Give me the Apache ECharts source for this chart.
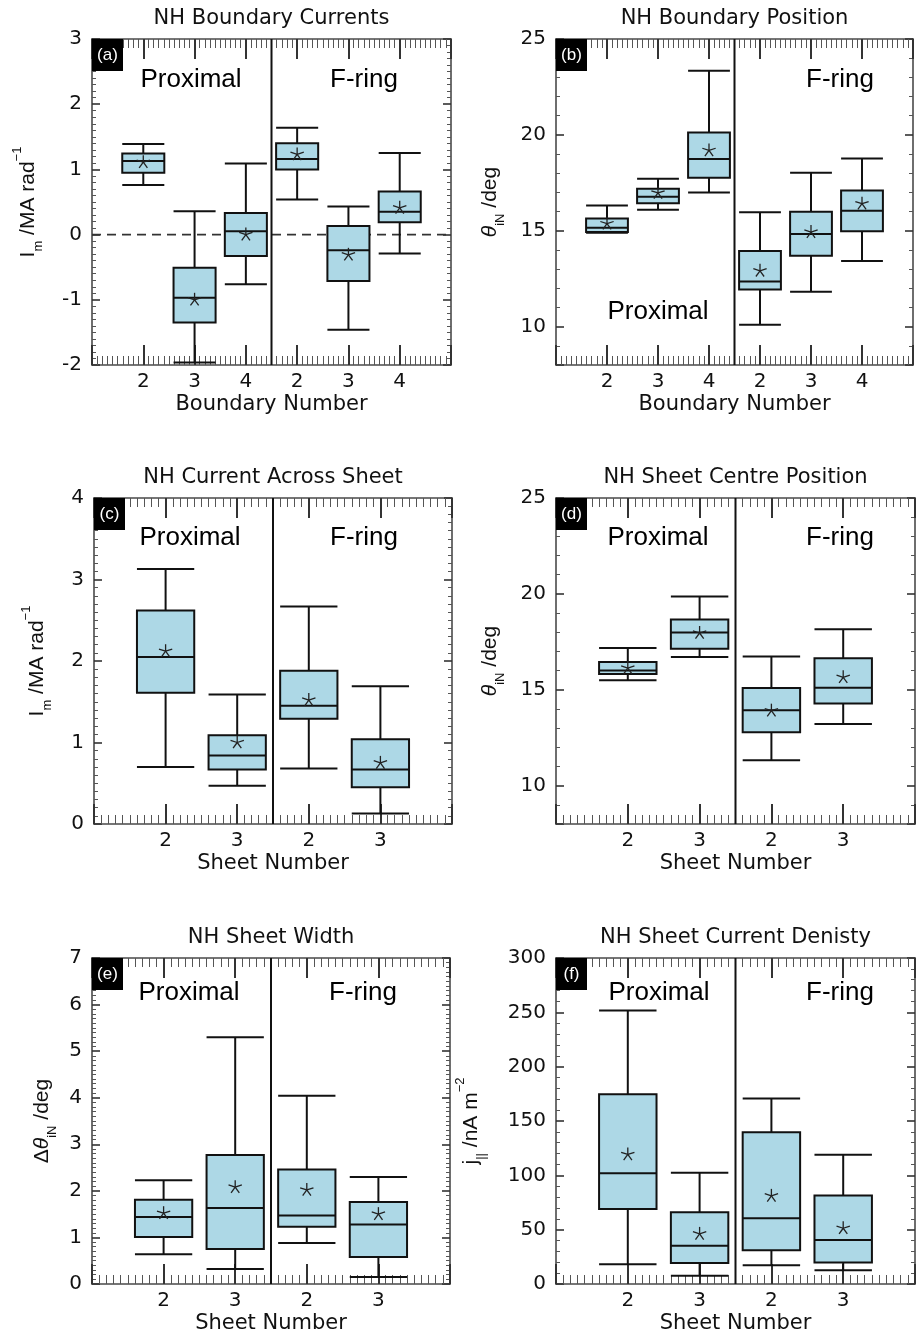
<!DOCTYPE html>
<html><head><meta charset="utf-8">
<script src="https://cdn.jsdelivr.net/npm/echarts@6/dist/echarts.min.js"></script>
<style>html,body{margin:0;padding:0;background:#fff}#chart{width:918px;height:1337px}</style>
</head><body><div id="chart"></div>
<script>
// ---------------- data ----------------
const boundaryLabels = ['2', '3', '4', '2', '3', '4'];
const sheetLabels = ['2', '3', '2', '3'];

// (a) NH Boundary Currents
const aLow  = [0.76, -1.96, -0.76, 0.54, -1.46, -0.29];
const aQ1   = [0.95, -1.35, -0.33, 1.00, -0.71, 0.19];
const aMed  = [1.13, -0.97, 0.05, 1.16, -0.24, 0.35];
const aQ3   = [1.245, -0.51, 0.33, 1.40, 0.13, 0.66];
const aHigh = [1.39, 0.36, 1.09, 1.64, 0.43, 1.25];
const aMean = [1.11, -1.00, 0.00, 1.23, -0.31, 0.41];

// (b) NH Boundary Position
const bLow  = [14.90, 16.10, 17.00, 10.10, 11.82, 13.42];
const bQ1   = [14.93, 16.43, 17.77, 11.94, 13.70, 14.97];
const bMed  = [15.16, 16.77, 18.74, 12.36, 14.83, 16.04];
const bQ3   = [15.64, 17.19, 20.13, 13.94, 15.99, 17.10];
const bHigh = [16.32, 17.71, 23.35, 15.97, 18.03, 18.77];
const bMean = [15.37, 16.97, 19.19, 12.91, 14.93, 16.41];

// (c) NH Current Across Sheet
const cLow  = [0.70, 0.47, 0.68, 0.13];
const cQ1   = [1.61, 0.67, 1.29, 0.45];
const cMed  = [2.05, 0.84, 1.45, 0.67];
const cQ3   = [2.62, 1.09, 1.88, 1.04];
const cHigh = [3.13, 1.59, 2.67, 1.69];
const cMean = [2.12, 1.00, 1.52, 0.75];

// (d) NH Sheet Centre Position
const dLow  = [15.49, 16.71, 11.32, 13.21];
const dQ1   = [15.82, 17.14, 12.78, 14.28];
const dMed  = [16.01, 17.98, 13.93, 15.11];
const dQ3   = [16.45, 18.67, 15.09, 16.64];
const dHigh = [17.18, 19.87, 16.73, 18.15];
const dMean = [16.13, 17.96, 13.91, 15.65];

// (e) NH Sheet Width
const eLow  = [0.64, 0.32, 0.88, 0.15];
const eQ1   = [1.01, 0.75, 1.23, 0.58];
const eMed  = [1.44, 1.63, 1.47, 1.28];
const eQ3   = [1.81, 2.77, 2.46, 1.76];
const eHigh = [2.23, 5.30, 4.04, 2.30];
const eMean = [1.52, 2.08, 2.02, 1.50];

// (f) NH Sheet Current Denisty
const fLow  = [18.1, 7.7, 17.2, 12.6];
const fQ1   = [69.1, 19.4, 31.0, 19.7];
const fMed  = [102.0, 35.3, 60.5, 40.6];
const fQ3   = [174.7, 66.0, 139.7, 81.4];
const fHigh = [251.8, 102.3, 170.7, 118.9];
const fMean = [119.2, 46.1, 81.1, 51.3];

// y-axis tick labels
const aTicks = [-2, -1, 0, 1, 2, 3];
const bTicks = [10, 15, 20, 25];
const cTicks = [0, 1, 2, 3, 4];
const dTicks = [10, 15, 20, 25];
const eTicks = [0, 1, 2, 3, 4, 5, 6, 7];
const fTicks = [0, 50, 100, 150, 200, 250, 300];

// ---------------- layout / style ----------------
const FR = '#4a4a4a', TK = '#555', TKM = '#333', INK = '#111';
const panels = [
  {tag: '(a)', title: 'NH Boundary Currents', grid: {left: 92, top: 39, width: 359, height: 326},
   labels: boundaryLabels, low: aLow, q1: aQ1, med: aMed, q3: aQ3, high: aHigh, mean: aMean,
   ymin: -2, ymax: 3, ticks: aTicks, interval: 1, minorSplit: 10, boxW: 0.82, xName: 'Boundary Number',
   yName: '{b|I}{sub|m}{b| /MA rad}{sup|−1}', nameGap: 47, zero: true,
   texts: [['Proximal', 191, 80], ['F-ring', 364, 80]]},
  {tag: '(b)', title: 'NH Boundary Position', grid: {left: 556, top: 39, width: 357, height: 326},
   labels: boundaryLabels, low: bLow, q1: bQ1, med: bMed, q3: bQ3, high: bHigh, mean: bMean,
   ymin: 8, ymax: 25, ticks: bTicks, interval: null, minorSplit: 5, boxW: 0.82, xName: 'Boundary Number',
   yName: '{it|θ}{sub|iN}{b| /deg}', nameGap: 49,
   texts: [['F-ring', 840, 80], ['Proximal', 658, 312]]},
  {tag: '(c)', title: 'NH Current Across Sheet', grid: {left: 94, top: 498, width: 358, height: 326},
   labels: sheetLabels, low: cLow, q1: cQ1, med: cMed, q3: cQ3, high: cHigh, mean: cMean,
   ymin: 0, ymax: 4, ticks: cTicks, interval: 1, minorSplit: 10, boxW: 0.8, xName: 'Sheet Number',
   yName: '{b|I}{sub|m}{b| /MA rad}{sup|−1}', nameGap: 40,
   texts: [['Proximal', 190, 538], ['F-ring', 364, 538]]},
  {tag: '(d)', title: 'NH Sheet Centre Position', grid: {left: 556, top: 498, width: 359, height: 326},
   labels: sheetLabels, low: dLow, q1: dQ1, med: dMed, q3: dQ3, high: dHigh, mean: dMean,
   ymin: 8, ymax: 25, ticks: dTicks, interval: null, minorSplit: 5, boxW: 0.8, xName: 'Sheet Number',
   yName: '{it|θ}{sub|iN}{b| /deg}', nameGap: 49,
   texts: [['Proximal', 658, 538], ['F-ring', 840, 538]]},
  {tag: '(e)', title: 'NH Sheet Width', grid: {left: 92, top: 958, width: 358, height: 326},
   labels: sheetLabels, low: eLow, q1: eQ1, med: eMed, q3: eQ3, high: eHigh, mean: eMean,
   ymin: 0, ymax: 7, ticks: eTicks, interval: 1, minorSplit: 10, boxW: 0.8, xName: 'Sheet Number',
   yName: '{b|Δ}{it|θ}{sub|iN}{b| /deg}', nameGap: 33,
   texts: [['Proximal', 189, 993], ['F-ring', 363, 993]]},
  {tag: '(f)', title: 'NH Sheet Current Denisty', grid: {left: 556, top: 958, width: 359, height: 326},
   labels: sheetLabels, low: fLow, q1: fQ1, med: fMed, q3: fQ3, high: fHigh, mean: fMean,
   ymin: 0, ymax: 300, ticks: fTicks, interval: 50, minorSplit: 5, boxW: 0.8, xName: 'Sheet Number',
   yName: '{b|j}{sub|||}{b| /nA m}{sup|−2}', nameGap: 68,
   texts: [['Proximal', 659, 993], ['F-ring', 840, 993]]}
];

const richName = {
  b:   {fontFamily: 'Liberation Sans', fontSize: 21, color: INK, lineHeight: 34},
  it:  {fontFamily: 'Liberation Sans', fontStyle: 'italic', fontSize: 21, color: INK, lineHeight: 34},
  sub: {fontFamily: 'Liberation Sans', fontSize: 13, color: INK, lineHeight: 18, verticalAlign: 'bottom'},
  sup: {fontFamily: 'Liberation Sans', fontSize: 13, color: INK, lineHeight: 18, verticalAlign: 'top'}
};

function boxRenderer(boxW) {
  return function (params, api) {
    const x = api.value(0);
    const lo = api.coord([x, api.value(1)]);
    const q1 = api.coord([x, api.value(2)]);
    const md = api.coord([x, api.value(3)]);
    const q3 = api.coord([x, api.value(4)]);
    const hi = api.coord([x, api.value(5)]);
    const mn = api.coord([x, api.value(6)]);
    const hw = api.size([boxW, 0])[0] / 2;
    const cx = lo[0];
    const ls = () => ({stroke: INK, lineWidth: 2});
    const children = [
      {type: 'line', shape: {x1: cx, y1: lo[1], x2: cx, y2: hi[1]}, style: ls()},
      {type: 'line', shape: {x1: cx - hw, y1: lo[1], x2: cx + hw, y2: lo[1]}, style: ls()},
      {type: 'line', shape: {x1: cx - hw, y1: hi[1], x2: cx + hw, y2: hi[1]}, style: ls()},
      {type: 'rect', shape: {x: cx - hw, y: q3[1], width: 2 * hw, height: q1[1] - q3[1]},
       style: {fill: '#add8e6', stroke: INK, lineWidth: 2}},
      {type: 'line', shape: {x1: cx - hw, y1: md[1], x2: cx + hw, y2: md[1]}, style: ls()}
    ];
    const r = 7;
    for (let k = 0; k < 5; k++) {
      const ang = -Math.PI / 2 + k * 2 * Math.PI / 5;
      children.push({type: 'line', shape: {x1: mn[0], y1: mn[1], x2: mn[0] + r * Math.cos(ang), y2: mn[1] + r * Math.sin(ang)},
        style: {stroke: '#222', lineWidth: 1.3}});
    }
    return {type: 'group', children};
  };
}

const option = {
  animation: false, backgroundColor: '#fff',
  grid: [], xAxis: [], yAxis: [], series: [], graphic: []
};

panels.forEach((p, i) => {
  const n = p.labels.length;
  const catPos = p.labels.map((_, k) => k + 1);
  option.grid.push(Object.assign({}, p.grid));

  ['bottom', 'top'].forEach(pos => {
    const ax = {
      type: 'value', gridIndex: i, min: 0, max: n + 1, interval: 1, position: pos,
      splitLine: {show: false},
      axisLine: {show: true, onZero: false, lineStyle: {color: FR, width: 1.6}},
      axisTick: {show: true, inside: true, length: 20, lineStyle: {color: TKM, width: 2}},
      minorTick: {show: true, splitNumber: 10, length: 9, lineStyle: {color: TK, width: 1}},
      axisLabel: {show: false}
    };
    if (pos === 'bottom') {
      ax.axisLabel = {show: true, margin: 7, color: INK, fontFamily: 'DejaVu Sans', fontSize: 20,
        showMinLabel: false, showMaxLabel: false,
        formatter: v => p.labels[Math.round(v) - 1] || ''};
      ax.name = p.xName; ax.nameLocation = 'middle'; ax.nameGap = 28;
      ax.nameTextStyle = {color: INK, fontFamily: 'DejaVu Sans', fontSize: 21, lineHeight: 24};
    }
    option.xAxis.push(ax);
  });

  ['left', 'right'].forEach(pos => {
    const ay = {
      type: 'value', gridIndex: i, min: p.ymin, max: p.ymax, position: pos,
      splitLine: {show: false},
      axisLine: {show: true, onZero: false, lineStyle: {color: FR, width: 1.6}},
      axisTick: {show: true, inside: true, length: 8, lineStyle: {color: TKM, width: 1.6}},
      minorTick: {show: true, splitNumber: p.minorSplit, length: 4, lineStyle: {color: TK, width: 1}},
      axisLabel: {show: false}
    };
    if (p.interval) ay.interval = p.interval; else ay.splitNumber = 3;
    if (pos === 'left') {
      ay.axisLabel = {show: true, customValues: p.ticks, margin: 10, color: INK, fontFamily: 'DejaVu Sans', fontSize: 20};
      ay.name = p.yName; ay.nameLocation = 'middle'; ay.nameGap = p.nameGap;
      ay.nameTextStyle = {rich: richName};
    }
    option.yAxis.push(ay);
  });

  const xi = 2 * i, yi = 2 * i;
  const div = n / 2 + 0.5;
  if (p.zero) {
    option.series.push({type: 'line', xAxisIndex: xi, yAxisIndex: yi, data: [[0, 0], [n + 1, 0]],
      showSymbol: false, silent: true, lineStyle: {color: '#333', width: 1.6, type: [9, 6]}, z: 1});
  }
  option.series.push({type: 'line', xAxisIndex: xi, yAxisIndex: yi, data: [[div, p.ymin], [div, p.ymax]],
    showSymbol: false, silent: true, lineStyle: {color: INK, width: 2}, z: 2});
  option.series.push({
    type: 'custom', xAxisIndex: xi, yAxisIndex: yi, z: 3,
    renderItem: boxRenderer(p.boxW),
    encode: {x: 0, y: [1, 2, 3, 4, 5, 6]},
    data: p.labels.map((_, k) => [k + 1, p.low[k], p.q1[k], p.med[k], p.q3[k], p.high[k], p.mean[k]])
  });

  // panel title
  option.graphic.push({type: 'text', x: p.grid.left + p.grid.width / 2, y: p.grid.top - 20, z: 10,
    style: {text: p.title, fill: INK, fontFamily: 'DejaVu Sans', fontSize: 21, align: 'center', verticalAlign: 'middle'}});
  // tag
  option.graphic.push({type: 'rect', x: p.grid.left, y: p.grid.top, z: 10,
    shape: {width: 31, height: 32}, style: {fill: '#000'}});
  option.graphic.push({type: 'text', x: p.grid.left + 15.5, y: p.grid.top + 16, z: 11,
    style: {text: p.tag, fill: '#fff', fontFamily: 'Liberation Sans', fontSize: 17, align: 'center', verticalAlign: 'middle'}});
  p.texts.forEach(t => option.graphic.push({type: 'text', x: t[1], y: t[2], z: 10,
    style: {text: t[0], fill: '#000', fontFamily: 'Liberation Sans', fontSize: 26, align: 'center', verticalAlign: 'middle'}}));
});

const chart = echarts.init(document.getElementById('chart'), null, {renderer: 'canvas'});
chart.setOption(option);
</script>
</body></html>
